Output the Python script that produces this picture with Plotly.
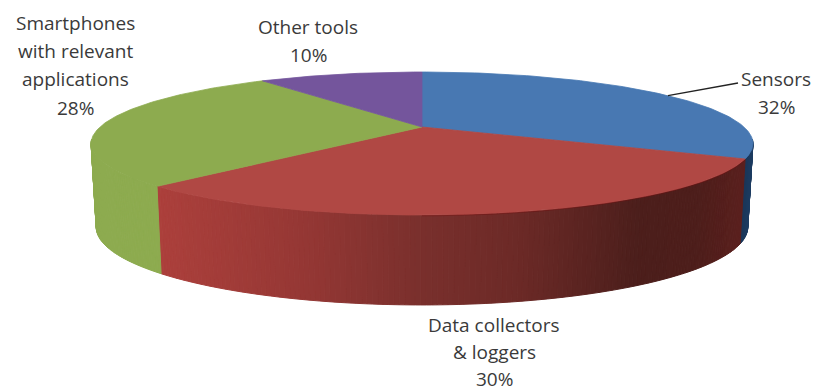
import numpy as np
import plotly.graph_objects as go

categories = ["Sensors", "Data collectors & loggers", "Smartphones with relevant applications", "Other tools"]
values = [32, 30, 28, 10]

TOP_COLORS = ["#4878b2", "#b04844", "#8dab4f", "#74559c"]
W, H = 816, 392
CX = 422
TOP = dict(y0=127.0, b=67.7, a=322.0)
BOT = dict(y0=209.0, b=73.8, a=317.0)
K = 0.2308


def project(theta_deg, g):
    t = np.radians(theta_deg)
    u, v = np.sin(t), -np.cos(t)
    d = 1 - K * v
    return CX + g["a"] * u / d, g["y0"] + g["b"] * v / d


def mix(stops, x):
    xs = [s[0] for s in stops]
    return "rgb(%d,%d,%d)" % tuple(np.interp(x, xs, [s[1][i] for s in stops]) for i in range(3))


RED_SIDE = [(160, (172, 64, 60)), (300, (150, 56, 53)), (420, (122, 48, 45)),
            (520, (108, 42, 39)), (640, (76, 31, 28)), (700, (78, 30, 27)), (750, (92, 32, 30))]
GREEN_SIDE = [(90, (141, 171, 79)), (170, (141, 171, 79))]
BLUE_SIDE = [(740, (24, 50, 84)), (755, (30, 62, 100))]
SIDE_STOPS = [BLUE_SIDE, RED_SIDE, GREEN_SIDE, GREEN_SIDE]

fractions = np.cumsum([0] + values) / sum(values) * 360
fig = go.Figure()


def poly(xs, ys, color, line=1.0):
    fig.add_trace(go.Scatter(x=xs, y=ys, mode="lines", fill="toself", fillcolor=color,
                             line=dict(color=color, width=line), hoverinfo="skip", showlegend=False))


# side wall, drawn as narrow bands along the visible front of the rim
VIS_A, VIS_B = 100.0, 260.0
for i in range(len(values)):
    a, b = max(fractions[i], VIS_A), min(fractions[i + 1], VIS_B)
    if b <= a:
        continue
    n = max(2, int((b - a) / 0.75))
    edges = np.linspace(a, b, n + 1)
    for t0, t1 in zip(edges[:-1], edges[1:]):
        xt0, yt0 = project(t0, TOP)
        xt1, yt1 = project(t1, TOP)
        xb0, yb0 = project(t0, BOT)
        xb1, yb1 = project(t1, BOT)
        poly([xt0, xt1, xb1, xb0, xt0], [yt0, yt1, yb1, yb0, yt0],
             mix(SIDE_STOPS[i], (xt0 + xt1) / 2))

# top face
for i in range(len(values)):
    th = np.linspace(fractions[i], fractions[i + 1], 120)
    rx, ry = project(th, TOP)
    poly(np.r_[CX, rx, CX], np.r_[TOP["y0"], ry, TOP["y0"]], TOP_COLORS[i], 0.8)

# dark rim between top face and the darker part of the red wall
th = np.linspace(fractions[1], 180, 80)
rx, ry = project(th, TOP)
fig.add_trace(go.Scatter(x=rx, y=ry + 0.8, mode="lines", line=dict(color="rgba(110,15,15,0.45)", width=1),
                         hoverinfo="skip", showlegend=False))

# leader for Sensors
lx, ly = project((fractions[0] + fractions[1]) / 2, TOP)
fig.add_trace(go.Scatter(x=[lx + 4, 729, 738], y=[ly + 1, 84, 83], mode="lines",
                         line=dict(color="#222222", width=1.3), hoverinfo="skip", showlegend=False))

labels = [
    (75, [("Smartphones", 23), ("with relevant", 51), ("applications", 79), ("28%", 108)]),
    (308, [("Other tools", 27), ("10%", 55)]),
    (776, [("Sensors", 79), ("32%", 107)]),
    (494, [("Data collectors", 325), ("& loggers", 352), ("30%", 378.5)]),
]
anns = []
for x, lines in labels:
    for text, y in lines:
        anns.append(dict(x=x, y=y, text=text, xref="x", yref="y", showarrow=False,
                         xanchor="center", yanchor="middle",
                         font=dict(family="Open Sans", size=19, color="#3a3a3a")))

fig.update_layout(
    width=W, height=H, margin=dict(l=0, r=0, t=0, b=0),
    paper_bgcolor="white", plot_bgcolor="white", showlegend=False, annotations=anns,
    xaxis=dict(range=[0, W], visible=False, fixedrange=True),
    yaxis=dict(range=[H, 0], visible=False, fixedrange=True),
)
fig.write_html("out.html", config=dict(displayModeBar=False),
               post_script="document.body.style.margin='0';document.documentElement.style.overflow='hidden';")
